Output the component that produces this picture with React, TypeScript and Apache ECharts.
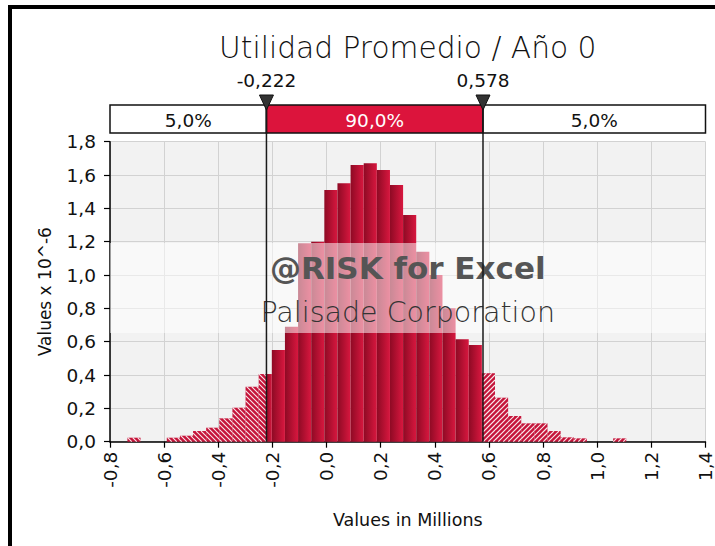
import React, { useEffect, useRef } from "react";
import * as echarts from "echarts";

const TITLE = "Utilidad Promedio / Año 0";
const X_AXIS_NAME = "Values in Millions";
const Y_AXIS_NAME = "Values x 10^-6";
const X_MIN = -0.8;
const X_MAX = 1.4;
const X_STEP = 0.2;
const Y_MIN = 0;
const Y_MAX = 1.8;
const Y_STEP = 0.2;
const LOWER = -0.222;
const UPPER = 0.578;
const LOWER_LABEL = "-0,222";
const UPPER_LABEL = "0,578";
const BAND_LABELS = ["5,0%", "90,0%", "5,0%"];
const WATERMARK = ["@RISK for Excel", "Palisade Corporation"];
const BIN_START = -0.7357;
const BIN_WIDTH = 0.0485;
const DENSITIES = [
  0.024, 0, 0, 0.024, 0.036, 0.064, 0.084, 0.14, 0.204, 0.33, 0.406, 0.55,
  0.69, 1.19, 1.2, 1.51, 1.55, 1.66, 1.67, 1.63, 1.54, 1.36, 1.14, 1.0, 0.8,
  0.614, 0.58, 0.41, 0.264, 0.154, 0.11, 0.11, 0.064, 0.026, 0.02, 0, 0, 0.02,
];

const FONT = "DejaVu Sans";

function buildSegments() {
  const out: number[][] = [];
  DENSITIES.forEach((h, i) => {
    if (h <= 0) return;
    const x0 = BIN_START + i * BIN_WIDTH;
    const x1 = x0 + BIN_WIDTH;
    if (x0 < LOWER) {
      const e = Math.min(x1, LOWER);
      if (e - x0 > 0.001) out.push([x0, e, h, 1]);
    }
    const a = Math.max(x0, LOWER);
    const b = Math.min(x1, UPPER);
    if (b - a > 0.001) out.push([a, b, h, 0]);
    if (x1 > UPPER) {
      const s = Math.max(x0, UPPER);
      if (x1 - s > 0.001) out.push([s, x1, h, 2]);
    }
  });
  return out;
}

const fmt = (v: number) => (Math.round(v * 10) / 10).toFixed(1).replace(".", ",");

export default function App() {
  const ref = useRef<HTMLDivElement>(null);
  useEffect(() => {
    const el = ref.current!;
    const chart = echarts.init(el, null, { renderer: "svg" });
    const segs = buildSegments();

    const renderItem = (params: any, api: any) => {
      const x0 = api.value(0);
      const x1 = api.value(1);
      const h = api.value(2);
      const kind = api.value(3);
      const p0 = api.coord([x0, h]);
      const p1 = api.coord([x1, 0]);
      const rx = p0[0];
      const ry = p0[1];
      const rw = p1[0] - p0[0];
      const rh = p1[1] - p0[1];
      if (kind === 0) {
        return {
          type: "rect",
          shape: { x: rx, y: ry, width: rw, height: rh },
          style: {
            fill: new echarts.graphic.LinearGradient(0, 0, 1, 0, [
              { offset: 0, color: "#8e0a24" },
              { offset: 1, color: "#d8173f" },
            ]),
          },
        };
      }
      const children: any[] = [
        { type: "rect", shape: { x: rx, y: ry, width: rw, height: rh }, style: { fill: "#c5143a" } },
      ];
      const s = 5;
      if (kind === 1) {
        const cMin = Math.ceil((ry - (rx + rw)) / s) * s;
        for (let c = cMin; c <= ry + rh - rx; c += s) {
          const xa = Math.max(rx, ry - c);
          const xb = Math.min(rx + rw, ry + rh - c);
          if (xb > xa) {
            children.push({
              type: "line",
              shape: { x1: xa, y1: xa + c, x2: xb, y2: xb + c },
              style: { stroke: "rgba(255,255,255,0.9)", lineWidth: 1.1 },
            });
          }
        }
      } else {
        const cMin = Math.ceil((rx + ry) / s) * s;
        for (let c = cMin; c <= rx + rw + ry + rh; c += s) {
          const xa = Math.max(rx, c - (ry + rh));
          const xb = Math.min(rx + rw, c - ry);
          if (xb > xa) {
            children.push({
              type: "line",
              shape: { x1: xa, y1: c - xa, x2: xb, y2: c - xb },
              style: { stroke: "rgba(255,255,255,0.9)", lineWidth: 1.1 },
            });
          }
        }
      }
      return { type: "group", children };
    };

    chart.setOption({
      animation: false,
      grid: {
        left: 110,
        right: 7,
        top: 141.7,
        bottom: 104.3,
        show: true,
        backgroundColor: "#f2f2f2",
        borderWidth: 0,
      },
      xAxis: {
        type: "value",
        min: X_MIN,
        max: X_MAX,
        interval: X_STEP,
        name: X_AXIS_NAME,
        nameLocation: "middle",
        nameGap: 69,
        nameTextStyle: { fontFamily: FONT, fontSize: 17.5, color: "#111" },
        axisLine: { show: true, onZero: false, lineStyle: { color: "#000", width: 1.5 } },
        axisTick: { show: true, length: 6, lineStyle: { color: "#000", width: 1.2 } },
        axisLabel: { rotate: 90, margin: 10, formatter: fmt, fontFamily: FONT, fontSize: 18.5, color: "#111" },
        splitLine: { show: true, lineStyle: { color: "#d2d2d2", width: 1 } },
      },
      yAxis: {
        type: "value",
        min: Y_MIN,
        max: Y_MAX,
        interval: Y_STEP,
        name: Y_AXIS_NAME,
        nameLocation: "middle",
        nameGap: 57,
        nameTextStyle: { fontFamily: FONT, fontSize: 17, color: "#111" },
        axisLine: { show: true, onZero: false, lineStyle: { color: "#000", width: 1.5 } },
        axisTick: { show: true, length: 6, lineStyle: { color: "#000", width: 1.2 } },
        axisLabel: { margin: 14, formatter: fmt, fontFamily: FONT, fontSize: 18.5, color: "#111" },
        splitLine: { show: true, lineStyle: { color: "#d2d2d2", width: 1 } },
      },
      series: [
        {
          type: "custom",
          renderItem,
          data: segs,
          encode: { x: [0, 1], y: 2 },
          z: 2,
        },
      ],
    });

    const px = (v: number) => chart.convertToPixel({ xAxisIndex: 0 }, v) as number;
    const py = (v: number) => chart.convertToPixel({ yAxisIndex: 0 }, v) as number;
    const xL = px(X_MIN);
    const xR = px(X_MAX);
    const xLo = px(LOWER);
    const xHi = px(UPPER);
    const y0 = py(0);
    const cx = (xL + xR) / 2;
    const boxTop = 105;
    const boxH = 28;

    const text = (t: string, x: number, y: number, size: number, weight: any, fill: string) => ({
      type: "text",
      x,
      y,
      z: 30,
      style: {
        text: t,
        fontFamily: FONT,
        fontSize: size,
        fontWeight: weight,
        fill,
        textAlign: "center",
        textVerticalAlign: "middle",
      },
    });

    const boxes = [
      [xL, xLo, "#ffffff", "#111"],
      [xLo, xHi, "#dc143c", "#ffffff"],
      [xHi, xR, "#ffffff", "#111"],
    ];

    const graphics: any[] = [
      { type: "rect", shape: { x: 8, y: 5, width: 4, height: 541 }, style: { fill: "#000" }, z: 40 },
      { type: "rect", shape: { x: 8, y: 5, width: 707, height: 4 }, style: { fill: "#000" }, z: 40 },
      {
        type: "rect",
        shape: { x: xL, y: 243, width: xR - xL, height: 90 },
        style: { fill: "rgba(255,255,255,0.52)" },
        z: 20,
      },
      text(WATERMARK[0], cx, 268, 31, "bold", "#555"),
      text(WATERMARK[1], cx, 312, 28.5, 200, "#333"),
      text(TITLE, cx, 47, 29.7, 200, "#111"),
      text(LOWER_LABEL, xLo, 80, 18.5, "normal", "#111"),
      text(UPPER_LABEL, xHi, 80, 18.5, "normal", "#111"),
    ];
    boxes.forEach(([a, b, fill, tc], i) => {
      graphics.push({
        type: "rect",
        z: 25,
        shape: { x: a as number, y: boxTop, width: (b as number) - (a as number), height: boxH },
        style: { fill, stroke: "#111", lineWidth: 1.5 },
      });
      graphics.push(text(BAND_LABELS[i], ((a as number) + (b as number)) / 2, boxTop + boxH / 2 + 1, 18.5, "normal", tc as string));
    });
    [xLo, xHi].forEach((x) => {
      graphics.push({
        type: "line",
        z: 35,
        shape: { x1: x, y1: 96, x2: x, y2: y0 },
        style: { stroke: "#1a1a1a", lineWidth: 1.5 },
      });
      graphics.push({
        type: "polygon",
        z: 36,
        shape: { points: [[x - 7, 95], [x + 7, 95], [x, 110]] },
        style: { fill: "#333", stroke: "#111", lineWidth: 1 },
      });
    });

    chart.setOption({ graphic: graphics });

    return () => chart.dispose();
  }, []);

  return (
    <div
      ref={ref}
      style={{ position: "fixed", left: 0, top: 0, width: 715, height: 546, background: "#fff" }}
    />
  );
}
